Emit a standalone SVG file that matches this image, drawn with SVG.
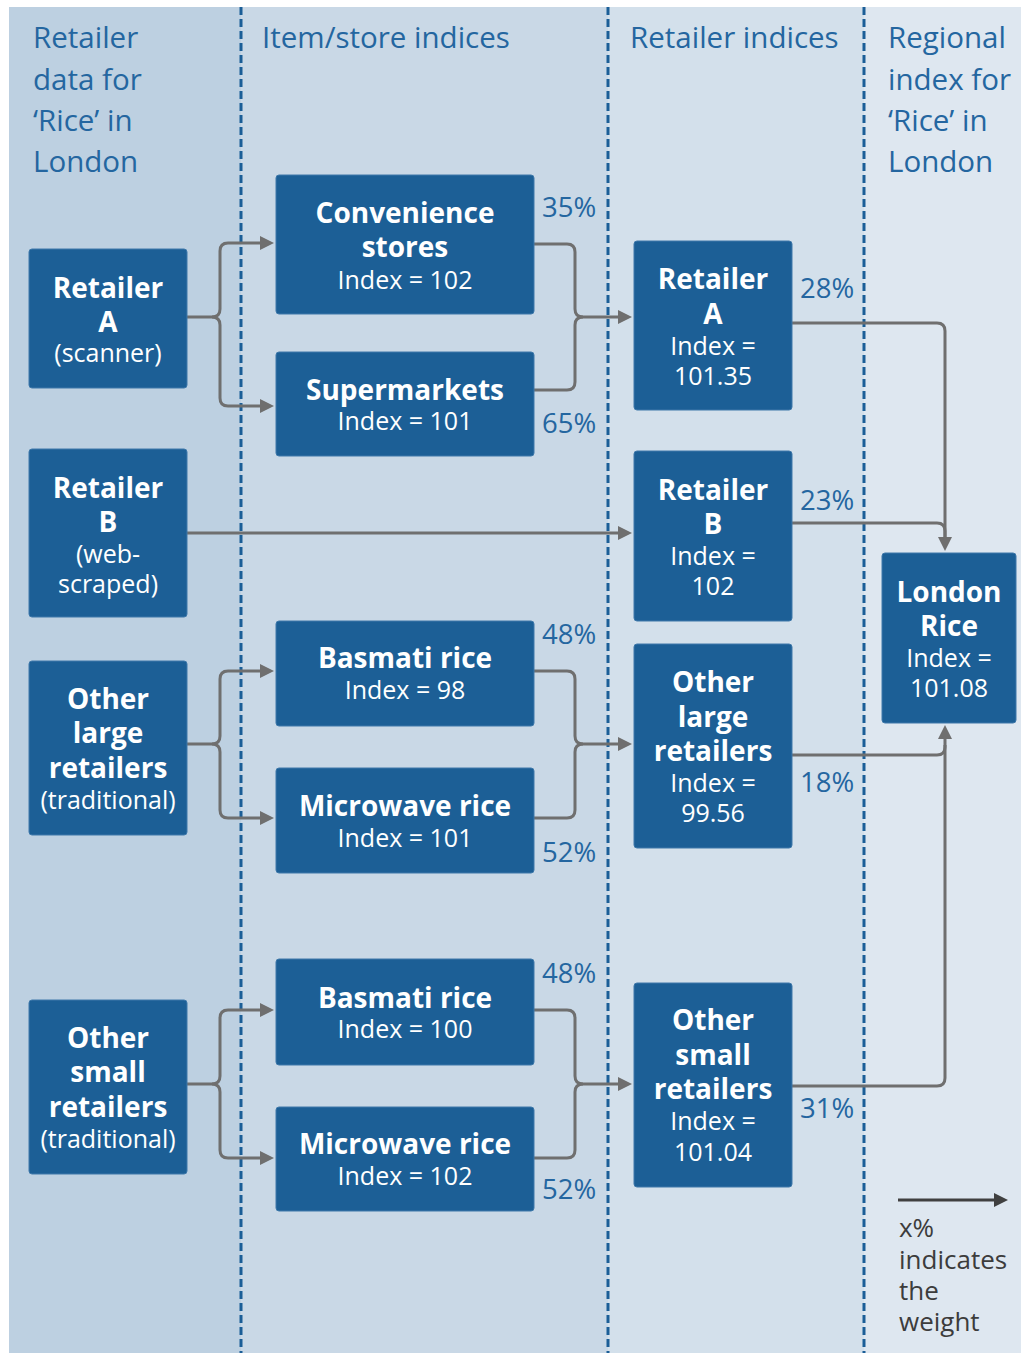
<svg xmlns="http://www.w3.org/2000/svg" width="1021" height="1353" viewBox="0 0 1021 1353">
<style>
.hdr{font-family:"Open Sans","Liberation Sans",sans-serif;font-size:29.5px;fill:#2466a0}
.pct{font-family:"Open Sans","Liberation Sans",sans-serif;font-size:27.5px;fill:#2466a0}
.box{fill:#1c5f96;stroke:#3e78aa;stroke-width:1}
.b{font-family:"Open Sans","Liberation Sans",sans-serif;font-size:28px;font-weight:bold;fill:#ffffff;text-anchor:middle}
.r{font-family:"Open Sans","Liberation Sans",sans-serif;font-size:25px;fill:#ffffff;text-anchor:middle}
.sep{stroke:#1b5e97;stroke-width:3;stroke-dasharray:8 4;fill:none}
.con{fill:none;stroke:#6f6f6f;stroke-width:3}
.leg{font-family:"Open Sans","Liberation Sans",sans-serif;font-size:26px;fill:#3c3c3c}
</style>
<defs>
<marker id="ah" markerUnits="userSpaceOnUse" markerWidth="14" markerHeight="14" refX="8" refY="7" orient="auto">
<path d="M0,0 L14,7 L0,14 Z" fill="#6f6f6f"/>
</marker>
<marker id="ahd" markerUnits="userSpaceOnUse" markerWidth="14" markerHeight="14" refX="8" refY="7" orient="auto">
<path d="M0,0 L14,7 L0,14 Z" fill="#404040"/>
</marker>
</defs>
<rect width="1021" height="1353" fill="#ffffff"/>
<g id="background">
<rect x="9" y="7" width="232" height="1346" fill="#bdd0e1"/>
<rect x="241" y="7" width="367" height="1346" fill="#c9d8e6"/>
<rect x="608" y="7" width="256" height="1346" fill="#d3e0eb"/>
<rect x="864" y="7" width="157" height="1346" fill="#dee7f0"/>
<line class="sep" x1="241" y1="7" x2="241" y2="1353"/>
<line class="sep" x1="608" y1="7" x2="608" y2="1353"/>
<line class="sep" x1="864" y1="7" x2="864" y2="1353"/>
</g>
<g id="headers">
<text class="hdr" x="33" y="48">Retailer</text>
<text class="hdr" x="33" y="90">data for</text>
<text class="hdr" x="33" y="131">‘Rice’ in</text>
<text class="hdr" x="33" y="172">London</text>
<text class="hdr" x="262" y="48">Item/store indices</text>
<text class="hdr" x="630" y="48">Retailer indices</text>
<text class="hdr" x="888" y="48">Regional</text>
<text class="hdr" x="888" y="90">index for</text>
<text class="hdr" x="888" y="131">‘Rice’ in</text>
<text class="hdr" x="888" y="172">London</text>
</g>
<g id="connectors">
<path class="con" d="M187,317 H212 Q220,317 220,309 V251 Q220,243 228,243 H268" marker-end="url(#ah)"/>
<path class="con" d="M212,317 Q220,317 220,325 V398 Q220,406 228,406 H268" marker-end="url(#ah)"/>
<path class="con" d="M534,244 H567 Q575,244 575,252 V309 Q575,317 583,317 H626" marker-end="url(#ah)"/>
<path class="con" d="M534,390 H567 Q575,390 575,382 V325 Q575,317 583,317"/>
<path class="con" d="M187,533 H626" marker-end="url(#ah)"/>
<path class="con" d="M187,744 H212 Q220,744 220,736 V679 Q220,671 228,671 H268" marker-end="url(#ah)"/>
<path class="con" d="M212,744 Q220,744 220,752 V810 Q220,818 228,818 H268" marker-end="url(#ah)"/>
<path class="con" d="M534,671 H567 Q575,671 575,679 V736 Q575,744 583,744 H626" marker-end="url(#ah)"/>
<path class="con" d="M534,818 H567 Q575,818 575,810 V752 Q575,744 583,744"/>
<path class="con" d="M187,1084 H212 Q220,1084 220,1076 V1018 Q220,1010 228,1010 H268" marker-end="url(#ah)"/>
<path class="con" d="M212,1084 Q220,1084 220,1092 V1150 Q220,1158 228,1158 H268" marker-end="url(#ah)"/>
<path class="con" d="M534,1010 H567 Q575,1010 575,1018 V1076 Q575,1084 583,1084 H626" marker-end="url(#ah)"/>
<path class="con" d="M534,1158 H567 Q575,1158 575,1150 V1092 Q575,1084 583,1084"/>
<path class="con" d="M792,323 H937 Q945,323 945,331 V545" marker-end="url(#ah)"/>
<path class="con" d="M792,523 H937 Q945,523 945,531 V540"/>
<path class="con" d="M792,755 H937 Q945,755 945,747 V731" marker-end="url(#ah)"/>
<path class="con" d="M792,1086 H937 Q945,1086 945,1078 V745"/>
</g>
<g id="pcts">
<text class="pct" x="542" y="217">35%</text>
<text class="pct" x="542" y="433">65%</text>
<text class="pct" x="542" y="644">48%</text>
<text class="pct" x="542" y="862">52%</text>
<text class="pct" x="542" y="983">48%</text>
<text class="pct" x="542" y="1199">52%</text>
<text class="pct" x="800" y="298">28%</text>
<text class="pct" x="800" y="510">23%</text>
<text class="pct" x="800" y="792">18%</text>
<text class="pct" x="800" y="1118">31%</text>
</g>
<g id="retailer-a">
<rect class="box" x="29" y="249" width="158" height="139" rx="3"/>
<text class="b" x="108" y="298">Retailer</text>
<text class="b" x="108" y="332">A</text>
<text class="r" x="108" y="362">(scanner)</text>
</g>
<g id="retailer-b">
<rect class="box" x="29" y="449" width="158" height="168" rx="3"/>
<text class="b" x="108" y="498">Retailer</text>
<text class="b" x="108" y="532">B</text>
<text class="r" x="108" y="563">(web-</text>
<text class="r" x="108" y="593">scraped)</text>
</g>
<g id="other-large">
<rect class="box" x="29" y="661" width="158" height="174" rx="3"/>
<text class="b" x="108" y="709">Other</text>
<text class="b" x="108" y="743">large</text>
<text class="b" x="108" y="778">retailers</text>
<text class="r" x="108" y="809">(traditional)</text>
</g>
<g id="other-small">
<rect class="box" x="29" y="1000" width="158" height="174" rx="3"/>
<text class="b" x="108" y="1048">Other</text>
<text class="b" x="108" y="1082">small</text>
<text class="b" x="108" y="1117">retailers</text>
<text class="r" x="108" y="1148">(traditional)</text>
</g>
<g id="convenience">
<rect class="box" x="276" y="175" width="258" height="139" rx="3"/>
<text class="b" x="405" y="223">Convenience</text>
<text class="b" x="405" y="257">stores</text>
<text class="r" x="405" y="289">Index = 102</text>
</g>
<g id="supermarkets">
<rect class="box" x="276" y="352" width="258" height="104" rx="3"/>
<text class="b" x="405" y="400">Supermarkets</text>
<text class="r" x="405" y="430">Index = 101</text>
</g>
<g id="basmati-large">
<rect class="box" x="276" y="621" width="258" height="105" rx="3"/>
<text class="b" x="405" y="668">Basmati rice</text>
<text class="r" x="405" y="699">Index = 98</text>
</g>
<g id="microwave-large">
<rect class="box" x="276" y="768" width="258" height="105" rx="3"/>
<text class="b" x="405" y="816">Microwave rice</text>
<text class="r" x="405" y="847">Index = 101</text>
</g>
<g id="basmati-small">
<rect class="box" x="276" y="959" width="258" height="106" rx="3"/>
<text class="b" x="405" y="1008">Basmati rice</text>
<text class="r" x="405" y="1038">Index = 100</text>
</g>
<g id="microwave-small">
<rect class="box" x="276" y="1107" width="258" height="104" rx="3"/>
<text class="b" x="405" y="1154">Microwave rice</text>
<text class="r" x="405" y="1185">Index = 102</text>
</g>
<g id="retailer-a-index">
<rect class="box" x="634" y="241" width="158" height="169" rx="3"/>
<text class="b" x="713" y="289">Retailer</text>
<text class="b" x="713" y="324">A</text>
<text class="r" x="713" y="355">Index =</text>
<text class="r" x="713" y="385">101.35</text>
</g>
<g id="retailer-b-index">
<rect class="box" x="634" y="451" width="158" height="170" rx="3"/>
<text class="b" x="713" y="500">Retailer</text>
<text class="b" x="713" y="534">B</text>
<text class="r" x="713" y="565">Index =</text>
<text class="r" x="713" y="595">102</text>
</g>
<g id="other-large-index">
<rect class="box" x="634" y="644" width="158" height="204" rx="3"/>
<text class="b" x="713" y="692">Other</text>
<text class="b" x="713" y="727">large</text>
<text class="b" x="713" y="761">retailers</text>
<text class="r" x="713" y="792">Index =</text>
<text class="r" x="713" y="822">99.56</text>
</g>
<g id="other-small-index">
<rect class="box" x="634" y="983" width="158" height="204" rx="3"/>
<text class="b" x="713" y="1030">Other</text>
<text class="b" x="713" y="1065">small</text>
<text class="b" x="713" y="1099">retailers</text>
<text class="r" x="713" y="1130">Index =</text>
<text class="r" x="713" y="1161">101.04</text>
</g>
<g id="london-rice">
<rect class="box" x="882" y="553" width="134" height="170" rx="3"/>
<text class="b" x="949" y="602">London</text>
<text class="b" x="949" y="636">Rice</text>
<text class="r" x="949" y="667">Index =</text>
<text class="r" x="949" y="697">101.08</text>
</g>
<g id="legend">
<path d="M898,1200 H1002" fill="none" stroke="#404040" stroke-width="3" marker-end="url(#ahd)"/>
<text class="leg" x="899" y="1237">x%</text>
<text class="leg" x="899" y="1269">indicates</text>
<text class="leg" x="899" y="1300">the</text>
<text class="leg" x="899" y="1331">weight</text>
</g>
</svg>
